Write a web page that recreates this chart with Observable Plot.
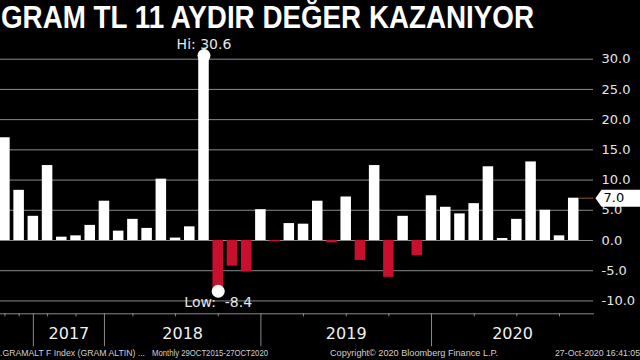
<!DOCTYPE html>
<html><head><meta charset="utf-8">
<script src="https://cdn.jsdelivr.net/npm/d3@7"></script>
<script src="https://cdn.jsdelivr.net/npm/@observablehq/plot@0.6"></script>
<style>
html,body{margin:0;padding:0;background:#000;}
#wrap{position:relative;width:640px;height:360px;overflow:hidden;background:#000;}
#chart{position:absolute;left:0;top:0;}
#title{position:absolute;left:1px;top:2px;font:bold 31px "Liberation Sans",Arial,sans-serif;color:#fff;white-space:nowrap;transform-origin:0 0;line-height:1;}
.ft{position:absolute;top:349px;font:9px "Liberation Sans",sans-serif;color:#d0d0d0;white-space:nowrap;line-height:1;}
</style></head><body>
<div id="wrap">
<div id="chart"></div>
<div id="title">GRAM TL 11 AYDIR DEĞER KAZANIYOR</div>
<div class="ft" style="left:0" data-w="145">.GRAMALT F Index (GRAM ALTIN) ...</div>
<div class="ft" style="left:152px" data-w="116">Monthly 29OCT2015-27OCT2020</div>
<div class="ft" style="left:330px" data-w="168">Copyright© 2020 Bloomberg Finance L.P.</div>
<div class="ft" style="left:555px" data-w="85">27-Oct-2020 16:41:05</div>
</div>
<script>
// monthly categories (Jun 2017 .. Oct 2020)
const months = [
  "Jun 2017","Jul 2017","Aug 2017","Sep 2017","Oct 2017","Nov 2017","Dec 2017",
  "Jan 2018","Feb 2018","Mar 2018","Apr 2018","May 2018","Jun 2018","Jul 2018","Aug 2018","Sep 2018","Oct 2018","Nov 2018","Dec 2018",
  "Jan 2019","Feb 2019","Mar 2019","Apr 2019","May 2019","Jun 2019","Jul 2019","Aug 2019","Sep 2019","Oct 2019","Nov 2019","Dec 2019",
  "Jan 2020","Feb 2020","Mar 2020","Apr 2020","May 2020","Jun 2020","Jul 2020","Aug 2020","Sep 2020","Oct 2020"
];
// monthly % change of gram gold in TL
const values = [
  17.0, 8.3, 4.0, 12.4, 0.55, 0.77, 2.5, 6.5, 1.55, 3.5,
  2.0, 10.15, 0.4, 2.26, 30.6, -8.4, -4.25, -5.2, 5.1, -0.2,
  2.8, 2.7, 6.5, -0.4, 7.2, -3.3, 12.4, -6.1, 4.0, -2.5,
  7.4, 5.5, 4.4, 6.1, 12.2, 0.33, 3.5, 13.0, 5.0, 0.77, 7.0
];
const yTicks = [-10, -5, 0, 5, 10, 15, 20, 25, 30];
const yearLabels = ["2017", "2018", "2019", "2020"];
const yearSeparatorMonths = ["Aug 2017", "Jan 2018", "Dec 2018", "Dec 2019"];
const minorTickMonths = ["Jun 2017","Jul 2017","Sep 2017","Nov 2017","Mar 2018","Jun 2018","Sep 2018","Mar 2019","Jun 2019","Sep 2019","Mar 2020","Jun 2020","Sep 2020"];

const data = months.map((m, k) => ({month: m, i: k + 1, v: values[k]}));
const idx = m => months.indexOf(m) + 1;
const xDomain = [0.69, 42.39];
const sepIdx = yearSeparatorMonths.map(idx);
const minorIdx = minorTickMonths.map(idx);
const yearData = yearLabels.map((y, k) => ({year: y, mid: (sepIdx[k] + (k + 1 < sepIdx.length ? sepIdx[k + 1] : xDomain[1])) / 2}));
const hi = d3.greatest(data, d => d.v);
const lo = d3.least(data, d => d.v);
const last = data[data.length - 1];
const halfW = 0.37;
const grey = "#8a8a8a";

const callout = {draw(ctx) {
  ctx.moveTo(2, 0); ctx.lineTo(8, -8.5); ctx.lineTo(48, -8.5); ctx.lineTo(48, 8.5); ctx.lineTo(8, 8.5); ctx.closePath();
}};

const chart = Plot.plot({
  width: 640, height: 360,
  marginLeft: 0, marginRight: 47, marginTop: 58.7, marginBottom: 46.7,
  x: {domain: xDomain, label: null},
  y: {domain: [-12.13, 30], label: null},
  color: {type: "identity"},
  style: {background: "transparent", color: "#e6e6e6", fontFamily: "DejaVu Sans, sans-serif", fontSize: "13px", overflow: "visible"},
  marks: [
    Plot.gridY(yTicks, {stroke: grey, strokeOpacity: 1}),
    Plot.frame({anchor: "bottom", stroke: grey}),
    Plot.axisY(yTicks, {anchor: "right", label: null, tickSize: 0, tickPadding: 8, tickFormat: d => d.toFixed(1), fill: "#e6e6e6", fontSize: 13}),
    Plot.axisX(minorIdx, {label: null, tickSize: 3, tickFormat: () => "", stroke: grey}),
    Plot.axisX(sepIdx, {label: null, tickSize: 33, tickFormat: () => "", stroke: grey}),
    Plot.text(yearData, {x: "mid", text: "year", frameAnchor: "bottom", dy: 25, fontSize: 16, fill: "#f0f0f0"}),
    Plot.rect(data, {x1: d => d.i - halfW, x2: d => d.i + halfW, y1: 0, y2: "v", fill: d => d.v >= 0 ? "#ffffff" : "#c8102e"}),
    Plot.ruleY([last], {y: "v", x1: d => d.i + halfW, x2: xDomain[1], stroke: "#8b5a2b"}),
    Plot.dot([hi, lo], {x: "i", y: "v", r: 6.5, fill: "#ffffff", stroke: "none"}),
    Plot.text([hi], {x: "i", y: "v", text: d => `Hi: ${d.v.toFixed(1)}`, dy: -11, fontSize: 14, fill: "#e6e6e6"}),
    Plot.text([lo], {x: "i", y: "v", text: d => `Low:\u00a0 ${d.v.toFixed(1)}`, dy: 11, fontSize: 14, fill: "#e6e6e6"}),
    Plot.dot([last], {y: "v", frameAnchor: "right", symbol: callout, fill: "#ffffff", stroke: "none"}),
    Plot.text([last], {y: "v", text: d => d.v.toFixed(1), frameAnchor: "right", dx: 10, textAnchor: "start", fill: "#000000", fontSize: 13})
  ]
});
document.getElementById("chart").appendChild(chart);

function fitWidth(el, target) {
  el.style.transformOrigin = "0 0";
  const w = el.getBoundingClientRect().width;
  el.style.transform = `scaleX(${target / w})`;
}
fitWidth(document.getElementById("title"), 533);
document.querySelectorAll(".ft").forEach(el => fitWidth(el, +el.dataset.w));
</script>
</body></html>
